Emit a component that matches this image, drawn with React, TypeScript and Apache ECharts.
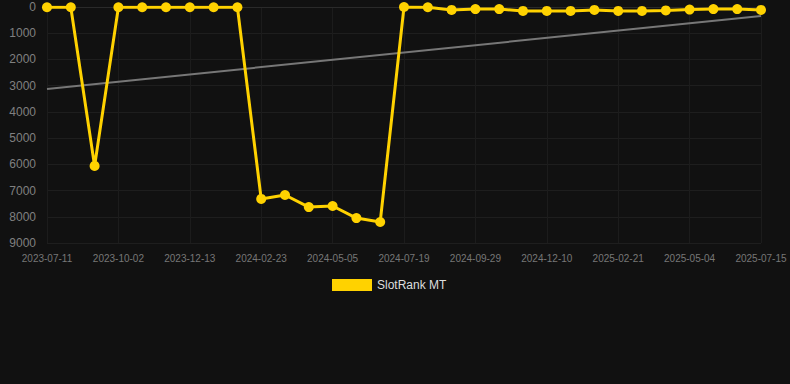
import React, { useEffect, useRef } from "react";
import * as echarts from "echarts";

const dates = [
  "2023-07-11", "2023-08-08", "2023-09-05", "2023-10-02", "2023-10-26", "2023-11-19",
  "2023-12-13", "2024-01-06", "2024-01-30", "2024-02-23", "2024-03-18", "2024-04-11",
  "2024-05-05", "2024-05-30", "2024-06-24", "2024-07-19", "2024-08-12", "2024-09-05",
  "2024-09-29", "2024-10-23", "2024-11-16", "2024-12-10", "2025-01-03", "2025-01-27",
  "2025-02-21", "2025-03-17", "2025-04-10", "2025-05-04", "2025-05-28", "2025-06-21",
  "2025-07-15",
];

const rankValues = [
  10, 10, 6060, 10, 10, 10, 10, 10, 10, 7320, 7170, 7630, 7590, 8050, 8200,
  0, 10, 110, 80, 80, 150, 150, 150, 110, 150, 150, 130, 100, 80, 80, 110,
];

const trendStart = 3130;
const trendEnd = 340;

const yTicks = { min: 0, max: 9000, interval: 1000 };

export default function App() {
  const ref = useRef<HTMLDivElement>(null);
  useEffect(() => {
    document.body.style.margin = "0";
    document.body.style.background = "#111111";
    const chart = echarts.init(ref.current!, null, { renderer: "svg" });
    chart.setOption({
      animation: false,
      backgroundColor: "#111111",
      grid: { left: 47, right: 29, top: 7, bottom: 141 },
      legend: {
        data: ["SlotRank MT"],
        top: 279,
        left: 332,
        padding: 0,
        icon: "rect",
        itemWidth: 40,
        itemHeight: 12,
        itemGap: 6,
        textStyle: { color: "#dddddd", fontSize: 12, fontFamily: "Arial, Liberation Sans, sans-serif" },
      },
      xAxis: {
        type: "category",
        data: dates,
        boundaryGap: false,
        axisLine: { show: true, lineStyle: { color: "#2a2a2a" } },
        axisTick: { show: false },
        axisLabel: {
          interval: 2,
          color: "#777777",
          fontSize: 10,
          margin: 10,
          fontFamily: "Arial, Liberation Sans, sans-serif",
        },
        splitLine: { show: true, interval: 2, lineStyle: { color: "#1c1c1c" } },
      },
      yAxis: {
        type: "value",
        inverse: true,
        min: yTicks.min,
        max: yTicks.max,
        interval: yTicks.interval,
        axisLine: { show: false },
        axisTick: { show: false },
        axisLabel: {
          color: "#808080",
          fontSize: 12,
          margin: 11,
          fontFamily: "Arial, Liberation Sans, sans-serif",
          formatter: (v: number) => String(v),
        },
        splitLine: { show: true, lineStyle: { color: "#1e1e1e" } },
      },
      series: [
        {
          name: "SlotRank MT",
          type: "line",
          data: rankValues,
          symbol: "circle",
          symbolSize: 10,
          itemStyle: { color: "#FFD200" },
          lineStyle: { color: "#FFD200", width: 3 },
          z: 3,
        },
        {
          name: "trend",
          type: "line",
          data: [
            [0, trendStart],
            [dates.length - 1, trendEnd],
          ],
          symbol: "none",
          lineStyle: { color: "#777777", width: 2 },
          itemStyle: { color: "#777777" },
          z: 2,
          silent: true,
        },
      ],
    });
    return () => chart.dispose();
  }, []);
  return <div ref={ref} style={{ width: 790, height: 384 }} />;
}
